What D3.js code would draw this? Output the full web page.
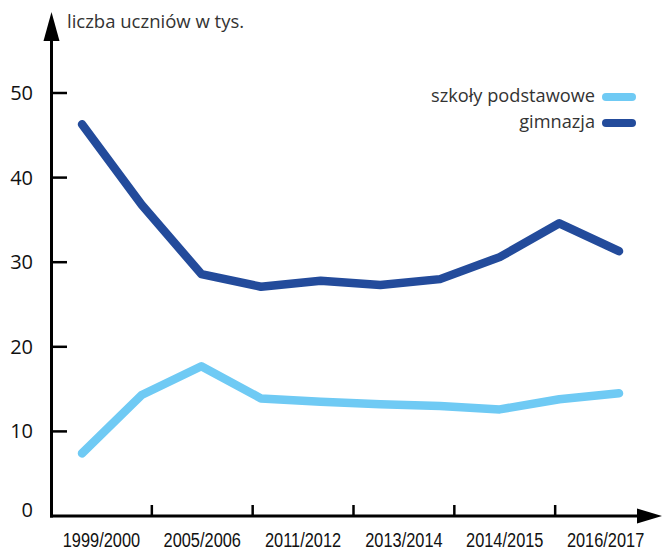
<!DOCTYPE html>
<html>
<head>
<meta charset="utf-8">
<script src="https://cdn.jsdelivr.net/npm/d3@7/dist/d3.min.js"></script>
<style>
  html, body { margin: 0; padding: 0; background: #fff; }
  svg { display: block; }
</style>
</head>
<body>
<svg id="chart" width="662" height="551"></svg>
<script>
// ---- data ----
const xLabels = ["1999/2000", "2005/2006", "2011/2012", "2013/2014", "2014/2015", "2016/2017"];
const pointIndex = [0, 1, 2, 3, 4, 5, 6, 7, 8, 9];
const szkolyPodstawowe = [7.4, 14.3, 17.7, 13.9, 13.5, 13.2, 13.0, 12.6, 13.8, 14.5];
const gimnazja = [46.3, 36.8, 28.6, 27.1, 27.8, 27.3, 28.0, 30.6, 34.6, 31.3];
const yTicks = [0, 10, 20, 30, 40, 50];
const yTitle = "liczba uczniów w tys.";
const seriesNames = ["szkoły podstawowe", "gimnazja"];
const seriesColors = ["#6fcaf4", "#234b9b"];

const svg = d3.select("#chart");
const axisX0 = 51.5, axisY0 = 516;

const y = d3.scaleLinear().domain([0, 50]).range([axisY0, 93]);
const xp = d3.scaleLinear().domain([0, 9]).range([82, 619]);
const xb = d3.scaleBand().domain(xLabels).range([51, 656]);

// axes lines
const axisG = svg.append("g").attr("stroke", "#000").attr("stroke-width", 3);
axisG.append("line").attr("x1", axisX0).attr("x2", axisX0).attr("y1", axisY0 + 1.5).attr("y2", 38);
axisG.append("line").attr("x1", axisX0 - 1.5).attr("x2", 640).attr("y1", axisY0).attr("y2", axisY0);
// arrows
svg.append("path").attr("d", `M${axisX0 - 8},41 L${axisX0},12 L${axisX0 + 8},41 Z`).attr("fill", "#000");
svg.append("path").attr("d", `M637,${axisY0 - 7.5} L662,${axisY0} L637,${axisY0 + 7.5} Z`).attr("fill", "#000");

// y ticks
const yT = svg.append("g");
yT.selectAll("line").data(yTicks.filter(d => d > 0)).join("line")
  .attr("x1", axisX0).attr("x2", 67)
  .attr("y1", d => y(d)).attr("y2", d => y(d))
  .attr("stroke", "#000").attr("stroke-width", 2.5);
yT.selectAll("text").data(yTicks).join("text")
  .attr("x", 33).attr("y", d => d === 0 ? y(d) + 1 : y(d) + 7)
  .attr("text-anchor", "end")
  .attr("font-family", "'Open Sans', sans-serif")
  .attr("font-size", 20)
  .attr("fill", "#111")
  .text(d => d);

// x ticks (band boundaries)
const xT = svg.append("g");
xT.selectAll("line").data(xLabels.slice(1)).join("line")
  .attr("x1", d => xb(d)).attr("x2", d => xb(d))
  .attr("y1", axisY0 - 11).attr("y2", axisY0)
  .attr("stroke", "#000").attr("stroke-width", 2.5);
xT.selectAll("text").data(xLabels).join("text")
  .attr("transform", d => `translate(${xb(d) + xb.bandwidth() / 2},546.5) scale(0.78,1)`)
  .attr("text-anchor", "middle")
  .attr("font-family", "'Liberation Sans', 'Open Sans', sans-serif")
  .attr("font-size", 21)
  .attr("fill", "#111")
  .text(d => d);

// title
svg.append("text").attr("x", 67).attr("y", 28)
  .attr("font-family", "'Open Sans', sans-serif")
  .attr("font-size", 18.5).attr("fill", "#333")
  .text(yTitle);

// lines
const line = d3.line().x((d, i) => xp(pointIndex[i])).y(d => y(d));
[szkolyPodstawowe, gimnazja].forEach((vals, k) => {
  svg.append("path").datum(vals)
    .attr("d", line)
    .attr("fill", "none")
    .attr("stroke", seriesColors[k])
    .attr("stroke-width", 8.5)
    .attr("stroke-linecap", "round")
    .attr("stroke-linejoin", "round");
});

// legend
const leg = svg.append("g");
seriesNames.forEach((name, k) => {
  const ly = 97 + k * 26;
  leg.append("text").attr("x", 595).attr("y", ly + 5)
    .attr("text-anchor", "end")
    .attr("font-family", "'Open Sans', sans-serif")
    .attr("font-size", 18.2).attr("fill", "#333")
    .text(name);
  leg.append("line").attr("x1", 606).attr("x2", 632).attr("y1", ly).attr("y2", ly)
    .attr("stroke", seriesColors[k]).attr("stroke-width", 8).attr("stroke-linecap", "round");
});
</script>
</body>
</html>
